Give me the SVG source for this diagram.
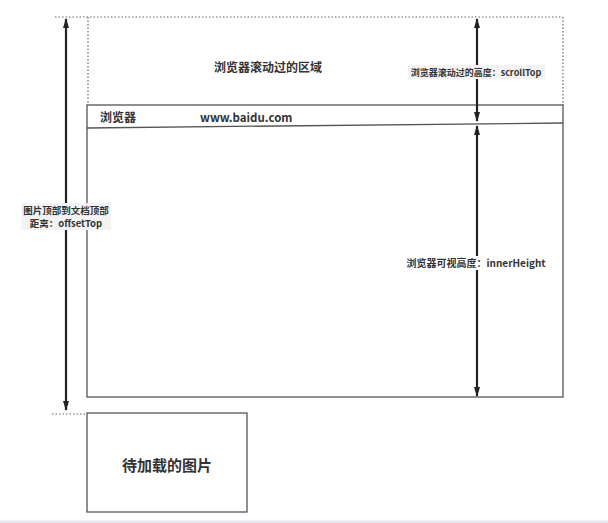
<svg xmlns="http://www.w3.org/2000/svg" width="608" height="523" viewBox="0 0 608 523">
<style>
.t{font-family:"Noto Sans CJK SC","Microsoft YaHei",sans-serif;font-weight:bold;fill:#333;}
.box{fill:none;stroke:#555;stroke-width:1.3;}
.dot{fill:none;stroke:#666;stroke-width:1.2;stroke-dasharray:1.5 2;}
.arr{stroke:#222;stroke-width:2.2;fill:none;marker-start:url(#ah);marker-end:url(#ah);}
.lbg{fill:#f3f3f3;}
</style>
<defs>
<marker id="ah" viewBox="0 0 10 6" refX="9" refY="3" markerWidth="10" markerHeight="6" markerUnits="userSpaceOnUse" orient="auto-start-reverse">
<path d="M0,0 L10,3 L0,6 Z" fill="#222"/>
</marker>
</defs>
<rect x="0" y="0" width="608" height="523" fill="#fff"/>
<rect x="0" y="520.5" width="608" height="2.5" fill="#e6e6ee"/>
<g id="scrolled-area">
<path class="dot" d="M55,17 H563 M88,17 V105 M563,17 V105"/>
<text class="t" x="268" y="72" font-size="12" text-anchor="middle">浏览器滚动过的区域</text>
</g>
<g id="browser">
<rect class="box" x="87" y="105" width="476" height="292"/>
<path class="box" d="M87,128 L563,123"/>
<text class="t" x="100" y="122" font-size="12">浏览器</text>
<text class="t" x="200" y="122" font-size="11.5">www.baidu.com</text>
</g>
<g id="image">
<path class="dot" d="M52,414 H86"/>
<rect class="box" x="87" y="413" width="160" height="99"/>
<text class="t" x="167" y="471" font-size="15" text-anchor="middle">待加载的图片</text>
</g>
<g id="connectors">
<line class="arr" x1="66" y1="19" x2="66" y2="410"/>
<line class="arr" x1="477" y1="19" x2="477" y2="121"/>
<line class="arr" x1="477" y1="126" x2="477" y2="396"/>
</g>
<g id="labels">
<rect class="lbg" x="408" y="65" width="137" height="14"/>
<text class="t" x="476" y="75.5" font-size="9" text-anchor="middle">浏览器滚动过的高度：scrollTop</text>
<rect class="lbg" x="21" y="203" width="90" height="27"/>
<text class="t" x="66" y="214" font-size="9.5" text-anchor="middle">图片顶部到文档顶部</text>
<text class="t" x="66" y="226.5" font-size="9.5" text-anchor="middle">距离：offsetTop</text>
<rect x="406" y="256" width="140" height="14" fill="#fff"/>
<text class="t" x="476" y="267" font-size="10" text-anchor="middle">浏览器可视高度：innerHeight</text>
</g>
</svg>
